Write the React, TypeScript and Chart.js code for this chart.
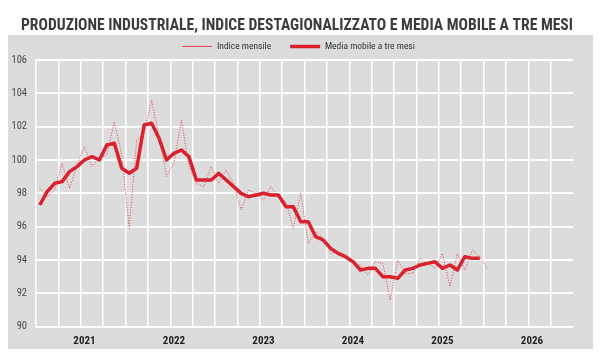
import React, { useEffect, useRef } from "react";
import { Chart, registerables } from "chart.js";

Chart.register(...registerables);

const TITLE = "PRODUZIONE INDUSTRIALE, INDICE DESTAGIONALIZZATO E MEDIA MOBILE A TRE MESI";
const YEARS = ["2021", "2022", "2023", "2024", "2025", "2026"];
const MONTH_NAMES = ["gen", "feb", "mar", "apr", "mag", "giu", "lug", "ago", "set", "ott", "nov", "dic"];
const SERIES_NAMES = ["Indice mensile", "Media mobile a tre mesi"];

// Monthly index, Jan 2021 onwards
const INDICE_MENSILE = [
  98.3, 97.8, 98.2, 99.8, 98.3, 99.7, 100.8, 99.6, 100.1, 100.3, 102.3, 100.3,
  95.9, 101.2, 101.6, 103.6, 101.4, 99.0, 99.8, 102.4, 99.6, 98.6, 98.4, 99.6,
  98.6, 99.4, 98.6, 97.0, 98.2, 98.0, 97.6, 98.4, 97.7, 97.5, 95.9, 98.0,
  95.0, 95.7, 95.3, 94.4, 94.5, 94.3, 93.8, 93.7, 93.1, 93.9, 93.8, 91.6,
  94.0, 93.2, 93.2, 94.1, 93.8, 93.5, 94.4, 92.4, 94.4, 93.4, 94.6, 94.2,
  93.5,
];

// Three-month moving average
const MEDIA_MOBILE = [
  97.3, 98.1, 98.6, 98.7, 99.3, 99.6, 100.0, 100.2, 100.0, 100.9, 101.0, 99.5,
  99.2, 99.5, 102.1, 102.2, 101.3, 100.0, 100.4, 100.6, 100.2, 98.8, 98.8, 98.8,
  99.2, 98.8, 98.4, 98.0, 97.8, 97.9, 98.0, 97.9, 97.9, 97.2, 97.2, 96.3,
  96.3, 95.4, 95.2, 94.7, 94.4, 94.2, 93.9, 93.4, 93.5, 93.5, 93.0, 93.0,
  92.9, 93.4, 93.5, 93.7, 93.8, 93.9, 93.5, 93.7, 93.4, 94.2, 94.1, 94.1,
];

const Y_MIN = 90;
const Y_MAX = 106;
const Y_STEP = 2;

const MONTH_LABELS: string[] = [];
YEARS.forEach((y) => MONTH_NAMES.forEach((m) => MONTH_LABELS.push(m + " " + y)));

const NARROW = "'Roboto Condensed', 'Liberation Sans', sans-serif";

const panelPlugin = {
  id: "panel",
  beforeLayout(chart: any) {
    const lg = chart.legend;
    if (lg && !lg.__patched) {
      const orig = lg.fit.bind(lg);
      lg.fit = function () {
        orig();
        this.height = 37.3;
      };
      lg.__patched = true;
    }
  },
  afterLayout(chart: any) {
    if (chart.titleBlock) chart.titleBlock.left += 13;
    if (chart.legend) chart.legend.left += 16;
  },
  beforeDraw(chart: any) {
    const ctx = chart.ctx;
    ctx.save();
    ctx.fillStyle = "#dcdcdc";
    ctx.fillRect(8, 35, 585, 314);
    ctx.restore();
  },
};

export default function App() {
  const ref = useRef<HTMLCanvasElement>(null);

  useEffect(() => {
    document.body.style.margin = "0";
    const canvas = ref.current;
    if (!canvas) return;
    const chart = new Chart(canvas, {
      type: "line",
      data: {
        labels: MONTH_LABELS,
        datasets: [
          {
            label: SERIES_NAMES[0],
            data: INDICE_MENSILE,
            borderColor: "#e2424b",
            backgroundColor: "#e2424b",
            borderWidth: 1,
            borderDash: [1, 1.6],
            pointRadius: 0,
            tension: 0,
          },
          {
            label: SERIES_NAMES[1],
            data: MEDIA_MOBILE,
            borderColor: "#d9202c",
            backgroundColor: "#d9202c",
            borderWidth: 3.5,
            pointRadius: 0,
            tension: 0,
            borderJoinStyle: "round",
          },
        ],
      },
      options: {
        responsive: false,
        animation: false,
        layout: { padding: { left: 8, right: 27, top: 0, bottom: 0 } },
        plugins: {
          title: {
            display: true,
            text: TITLE,
            color: "#3c3c3c",
            font: { family: NARROW, size: 16.3, weight: "bold", lineHeight: 1.2 },
            padding: { top: 16.2, bottom: -13.1 },
          },
          legend: {
            display: true,
            labels: {
              usePointStyle: true,
              pointStyle: "line",
              pointStyleWidth: 30,
              color: "#333",
              font: { family: NARROW, size: 9.5 },
              padding: 19,
            },
          },
          tooltip: { enabled: false },
        },
        scales: {
          x: {
            type: "category",
            offset: true,
            grid: {
              offset: true,
              drawTicks: false,
              lineWidth: 1.5,
              color: (c: any) => (c.index % 3 === 0 ? "#ffffff" : "rgba(0,0,0,0)"),
            },
            border: { display: false },
            ticks: {
              autoSkip: false,
              maxRotation: 0,
              minRotation: 0,
              padding: 8,
              color: "#222",
              font: { family: NARROW, size: 11, weight: "bold" },
              callback: (_v: any, i: number) => (i % 12 === 6 ? YEARS[Math.floor(i / 12)] : ""),
            },
            afterFit: (s: any) => {
              s.height = 33.3;
            },
          },
          y: {
            min: Y_MIN,
            max: Y_MAX,
            grid: { color: "#ffffff", lineWidth: 2, drawTicks: false },
            border: { display: false },
            ticks: {
              stepSize: Y_STEP,
              padding: 9,
              color: "#4a4a4a",
              font: { family: NARROW, size: 10.5 },
            },
            afterFit: (s: any) => {
              s.width = 28;
            },
          },
        },
      },
      plugins: [panelPlugin],
    });
    return () => chart.destroy();
  }, []);

  return (
    <div style={{ width: 600, height: 360, background: "#fff" }}>
      <canvas ref={ref} width={600} height={360} style={{ display: "block" }} />
    </div>
  );
}
